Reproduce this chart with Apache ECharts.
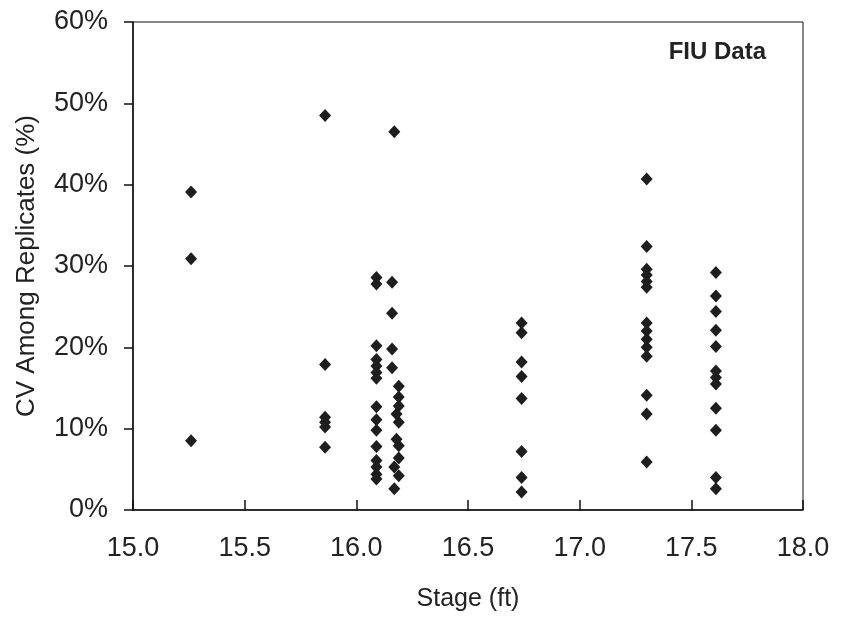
<!DOCTYPE html>
<html>
<head>
<meta charset="utf-8">
<script src="https://cdn.jsdelivr.net/npm/echarts@6/dist/echarts.min.js"></script>
<style>
html,body{margin:0;padding:0;background:#fff;}
#chart{width:848px;height:617px;}
</style>
</head>
<body>
<div id="chart"></div>
<script>
// Stage (ft) of each sampling group
const groupStages = [15.26, 15.86, 16.09, 16.17, 16.74, 17.30, 17.61];
// CV among replicates (%) for each group
const cv1526 = [39.1, 30.9, 8.5];
const cv1586 = [48.5, 17.9, 11.4, 10.8, 10.2, 7.7];
const cv1609 = [28.6, 27.8, 20.2, 18.5, 17.7, 16.9, 16.2, 12.7, 11.1, 9.8, 7.8, 6.1, 5.3, 4.4, 3.8];
const cv1617 = [46.5, 28.0, 24.2, 19.8, 17.5, 15.2, 13.9, 12.8, 11.8, 10.8, 8.7, 7.9, 6.4, 5.3, 4.2, 2.6];
// small horizontal offsets of the 16.17 column
const stage1617 = [16.17, 16.16, 16.16, 16.16, 16.16, 16.19, 16.19, 16.19, 16.18, 16.19, 16.18, 16.19, 16.19, 16.17, 16.19, 16.17];
const cv1674 = [23.0, 21.8, 18.2, 16.4, 13.7, 7.2, 4.0, 2.2];
const cv1730 = [40.7, 32.4, 29.6, 28.9, 28.1, 27.4, 23.0, 22.0, 21.0, 20.0, 18.9, 14.1, 11.8, 5.9];
const cv1761 = [29.2, 26.3, 24.4, 22.1, 20.1, 17.1, 16.3, 15.5, 12.5, 9.8, 4.0, 2.6];

const xTicks = [15.0, 15.5, 16.0, 16.5, 17.0, 17.5, 18.0];
const yTicks = [0, 10, 20, 30, 40, 50, 60];

const groups = [cv1526, cv1586, cv1609, null, cv1674, cv1730, cv1761];
const points = [];
groups.forEach((g, i) => {
  if (g) g.forEach(v => points.push([groupStages[i], v]));
});
cv1617.forEach((v, j) => points.push([stage1617[j], v]));

const font = 'Liberation Sans, Arial, sans-serif';
const chart = echarts.init(document.getElementById('chart'));
chart.setOption({
  animation: false,
  backgroundColor: '#fff',
  grid: {left: 133, right: 45, top: 22, bottom: 106, show: true, borderColor: '#111', borderWidth: 1, backgroundColor: 'transparent'},
  title: {
    text: 'FIU Data', right: 77, top: 35,
    textStyle: {fontFamily: font, fontSize: 24, fontWeight: 'bold', color: '#222'}
  },
  xAxis: {
    type: 'value', min: xTicks[0], max: xTicks[xTicks.length - 1], interval: 0.5,
    name: 'Stage (ft)', nameLocation: 'middle', nameGap: 77,
    nameTextStyle: {fontFamily: font, fontSize: 25, color: '#222'},
    axisLine: {show: true, lineStyle: {color: '#111', width: 1.5}},
    axisTick: {show: true, inside: true, length: 10, lineStyle: {color: '#111', width: 1.5}},
    splitLine: {show: false},
    axisLabel: {fontFamily: font, fontSize: 27, color: '#222', margin: 25, formatter: v => v.toFixed(1)}
  },
  yAxis: {
    type: 'value', min: yTicks[0], max: yTicks[yTicks.length - 1], interval: 10,
    name: 'CV Among Replicates (%)', nameLocation: 'middle', nameGap: 93,
    nameTextStyle: {fontFamily: font, fontSize: 26, color: '#222'},
    axisLine: {show: true, lineStyle: {color: '#111', width: 1.5}},
    axisTick: {show: true, inside: false, length: 9, lineStyle: {color: '#111', width: 1.5}},
    splitLine: {show: false},
    axisLabel: {fontFamily: font, fontSize: 27, color: '#222', margin: 25, formatter: v => v + '%'}
  },
  series: [{
    type: 'scatter',
    symbol: 'diamond',
    symbolSize: [12, 13],
    itemStyle: {color: '#1e1e1e', opacity: 1},
    data: points
  }]
});
</script>
</body>
</html>
